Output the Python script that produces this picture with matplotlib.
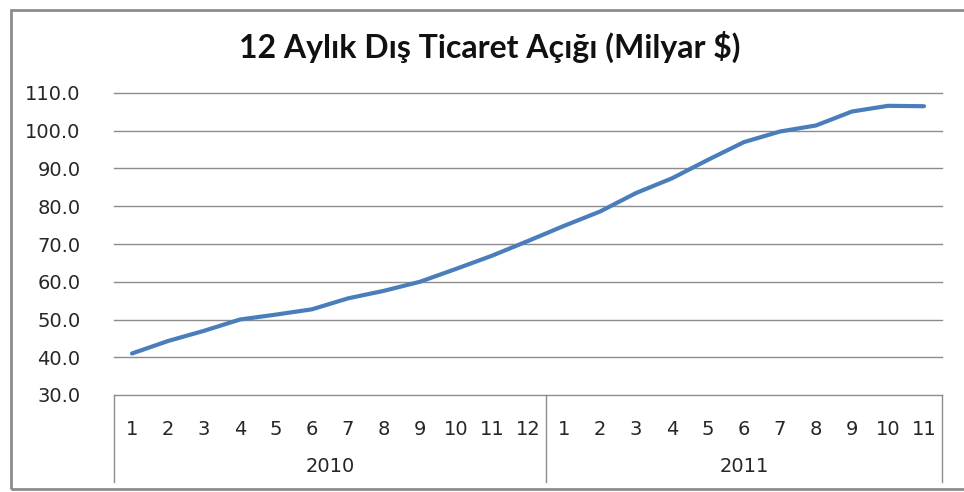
import numpy as np
import matplotlib.pyplot as plt
from matplotlib.patches import Rectangle
from matplotlib.transforms import blended_transform_factory

plt.rcParams['font.family'] = ['DejaVu Sans']

title = '12 Aylık Dış Ticaret Açığı (Milyar $)'
years = ['2010', '2011']
months_2010 = [str(m) for m in range(1, 13)]
months_2011 = [str(m) for m in range(1, 12)]
deficit = [41.0, 44.3, 47.0, 50.0, 51.3, 52.7, 55.6, 57.6, 60.0, 63.4, 66.9, 70.8,
           74.8, 78.6, 83.5, 87.4, 92.3, 97.0, 99.8, 101.4, 105.1, 106.6, 106.5]
yticks = [30, 40, 50, 60, 70, 80, 90, 100, 110]

line_color = '#4a7ebb'
grid_color = '#8c8c8c'
text_color = '#262626'
label_size = 14

fig = plt.figure(figsize=(9.64, 4.92), dpi=100)
W, H = 964, 492
ax = fig.add_axes([114 / W, 1 - 395 / H, (942 - 114) / W, (395 - 93) / H])

labels = months_2010 + months_2011
x = np.arange(len(labels))
ax.plot(x, deficit, color=line_color, lw=3.0, solid_capstyle='round', clip_on=False, zorder=3)

ax.set_xlim(-0.5, len(labels) - 0.5)
ax.set_ylim(30, 110)
ax.set_yticks(yticks)
ax.set_yticklabels([f'{v:.1f}' for v in yticks], fontsize=label_size, color=text_color)
for v in yticks[1:]:
    ax.axhline(v, color=grid_color, lw=1.0, zorder=1, clip_on=False)

for s in ['left', 'right', 'top']:
    ax.spines[s].set_visible(False)
ax.spines['bottom'].set_color(grid_color)
ax.spines['bottom'].set_linewidth(1.0)
ax.tick_params(axis='y', length=0, pad=24)
ax.tick_params(axis='x', length=0, pad=18)
ax.set_xticks(x)
ax.set_xticklabels(labels, fontsize=label_size, color=text_color)

# category box (multi-level axis)
tr = blended_transform_factory(ax.transData, ax.transAxes)
box_bottom = -(482 - 395) / (395 - 93)
for xv in [-0.5, len(months_2010) - 0.5, len(labels) - 0.5]:
    ax.plot([xv, xv], [0, box_bottom], color=grid_color, lw=1.0, transform=tr, clip_on=False)
year_centers = [(len(months_2010) - 1) / 2, len(months_2010) + (len(months_2011) - 1) / 2]
for yc, yr in zip(year_centers, years):
    ax.text(yc, -(466 - 395) / (395 - 93), yr, transform=tr, ha='center', va='center',
            fontsize=label_size, color=text_color)

fig.text(490 / W, 1 - 47 / H, title, ha='center', va='center', fontsize=23,
         fontweight='bold', family=['Lato', 'DejaVu Sans'], color='#111111')

fig.patches.append(Rectangle((11 / W, 1 - 489 / H), (980 - 11) / W, (489 - 10) / H,
                             transform=fig.transFigure, fill=False, edgecolor='#8c8c8c', lw=2.0))

fig.savefig('out.png', dpi=100)
